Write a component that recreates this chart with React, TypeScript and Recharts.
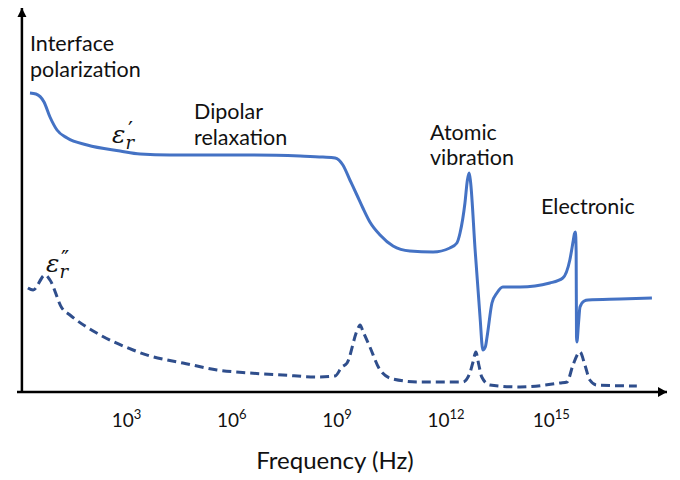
import React from 'react';
import { LineChart, Line, XAxis, YAxis, ReferenceLine, ReferenceDot } from 'recharts';

// x = log10(frequency / Hz), y = relative magnitude (arbitrary units)
const realLogF = [0.37, 0.54, 0.77, 0.94, 1.14, 1.43, 2.0, 2.94, 3.51, 4.36, 5.22, 6.64, 8.07, 8.72, 9.07, 9.29, 9.49, 9.69, 9.86, 10.06, 10.35, 10.72, 11.2, 11.86, 12.34, 12.54, 12.63, 12.77, 12.84, 12.89, 12.93, 13.06, 13.2, 13.28, 13.35, 13.4, 13.54, 13.68, 13.85, 14.34, 15.19, 15.56, 15.76, 15.86, 15.89, 15.92, 15.94, 15.95, 15.96, 16.01, 16.05, 16.17, 16.28, 17.19, 18.1];
const realEps = [299, 298, 290, 275, 262, 254, 247, 241, 238, 237, 237, 237, 236, 235, 234, 227, 212, 197, 184, 170, 157, 146, 141, 140, 144, 149, 159, 189, 212, 219, 210, 142, 75, 42, 45, 55, 89, 99, 105, 105, 109, 114, 132, 152, 158, 160, 140, 55, 50, 70, 85, 91, 92, 93, 94];

const lossLogF = [0.31, 0.46, 0.8, 0.94, 1.28, 1.51, 2.37, 3.31, 3.79, 4.28, 4.73, 5.7, 6.64, 7.58, 8.55, 9.07, 9.26, 9.41, 9.7, 9.78, 9.87, 10.06, 10.35, 10.72, 11.49, 12.71, 12.91, 13.0, 13.08, 13.16, 13.25, 13.48, 14.34, 15.48, 15.68, 15.85, 16.05, 16.19, 16.33, 16.53, 17.67];
const lossEps = [104, 102, 117, 112, 84, 77, 57, 42, 36, 32, 29, 22, 19, 17, 15, 16, 25, 29, 62, 67, 60, 45, 22, 13, 10, 10, 19, 30, 40, 28, 15, 7, 5, 9, 10, 27, 40, 27, 12, 7, 6];

const decadeTicks = [3, 6, 9, 12, 15];
const xMax = 18.53;
const yMax = 384;
const yAxisAt = 0.14;

const realData = realLogF.map((f, i) => ({ f, v: realEps[i] }));
const lossData = lossLogF.map((f, i) => ({ f, v: lossEps[i] }));

const font = 'Lato, "Open Sans", sans-serif';
const mathFont = '"DejaVu Serif", serif';
const primeFont = '"DejaVu Sans", sans-serif';

const DecadeTick = (props: any) => {
  const { x, y, payload } = props;
  return (
    <text x={x - 10.5} y={y + 27} fontFamily={font} fontSize={19} fill="#111">
      10
      <tspan fontSize={13} dy={-8}>{payload.value}</tspan>
    </text>
  );
};

const ArrowRight = (props: any) => {
  const { cx, cy } = props;
  return <path d={`M${cx},${cy} L${cx - 9},${cy - 5} L${cx - 9},${cy + 5} Z`} fill="#000" />;
};

const ArrowUp = (props: any) => {
  const { cx, cy } = props;
  return <path d={`M${cx},${cy} L${cx - 4.5},${cy + 9} L${cx + 4.5},${cy + 9} Z`} fill="#000" />;
};

export default function App() {
  return (
    <div style={{ position: 'fixed', left: 0, top: 0, width: 680, height: 480, background: '#fff' }}>
      <LineChart width={680} height={480} margin={{ top: 8, right: 13, left: 17, bottom: 8 }}>
        <XAxis
          dataKey="f"
          type="number"
          domain={[0, xMax]}
          ticks={decadeTicks}
          allowDataOverflow
          height={80}
          tickLine={false}
          axisLine={{ stroke: '#000', strokeWidth: 2.5 }}
          tick={<DecadeTick />}
          label={{
            value: 'Frequency (Hz)',
            position: 'insideBottom',
            offset: 3,
            dx: -7,
            fill: '#111',
            fontSize: 24,
            fontFamily: font,
          }}
        />
        <YAxis type="number" domain={[0, yMax]} width={0} hide />
        <ReferenceLine x={yAxisAt} stroke="#000" strokeWidth={2.5} ifOverflow="extendDomain" />
        <ReferenceDot x={xMax} y={0} r={0} shape={<ArrowRight />} />
        <ReferenceDot x={yAxisAt} y={yMax} r={0} shape={<ArrowUp />} />
        <Line
          data={realData}
          dataKey="v"
          type="monotone"
          stroke="#4472C4"
          strokeWidth={3}
          dot={false}
          isAnimationActive={false}
        />
        <Line
          data={lossData}
          dataKey="v"
          type="monotone"
          stroke="#2F4E8C"
          strokeWidth={3}
          strokeDasharray="9 5"
          dot={false}
          isAnimationActive={false}
        />
      </LineChart>
      <svg width={680} height={480} style={{ position: 'absolute', left: 0, top: 0, pointerEvents: 'none' }}>
        <g fontFamily={font} fontSize={21.5} fill="#111">
          <text x={30} y={51}>Interface</text>
          <text x={30} y={77}>polarization</text>
          <text x={194} y={119}>Dipolar</text>
          <text x={194} y={145}>relaxation</text>
          <text x={430} y={140}>Atomic</text>
          <text x={430} y={165}>vibration</text>
          <text x={541} y={214}>Electronic</text>
        </g>
        <g fontFamily={mathFont} fontStyle="italic" fill="#111">
          <text x={112} y={143} fontSize={25}>
            ε<tspan fontSize={18} dy={6}>r</tspan>
            <tspan fontSize={22} dx={-6} dy={-12} fontStyle="normal" fontFamily={primeFont}>′</tspan>
          </text>
          <text x={46} y={272} fontSize={25}>
            ε<tspan fontSize={18} dy={6}>r</tspan>
            <tspan fontSize={22} dx={-7} dy={-12} fontStyle="normal" fontFamily={primeFont}>″</tspan>
          </text>
        </g>
      </svg>
    </div>
  );
}
